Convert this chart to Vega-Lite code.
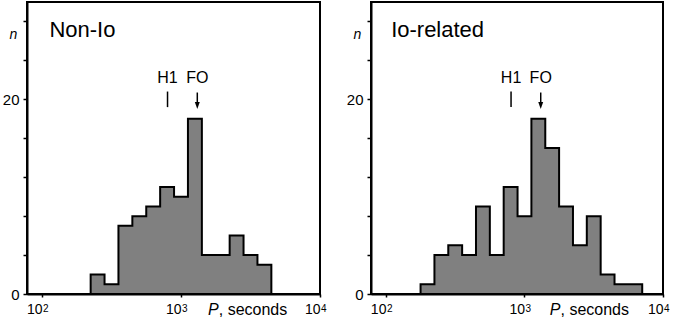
{
  "$schema": "https://vega.github.io/schema/vega-lite/v6.json",
  "padding": {"left": 1, "top": 1, "right": 0, "bottom": 0},
  "spacing": 17,
  "datasets": {
    "bins": [
      {"panel": "Non-Io", "lo": 223.9, "hi": 281.8, "n": 2},
      {"panel": "Non-Io", "lo": 281.8, "hi": 354.8, "n": 1},
      {"panel": "Non-Io", "lo": 354.8, "hi": 446.7, "n": 7},
      {"panel": "Non-Io", "lo": 446.7, "hi": 562.3, "n": 8},
      {"panel": "Non-Io", "lo": 562.3, "hi": 707.9, "n": 9},
      {"panel": "Non-Io", "lo": 707.9, "hi": 891.3, "n": 11},
      {"panel": "Non-Io", "lo": 891.3, "hi": 1122, "n": 10},
      {"panel": "Non-Io", "lo": 1122, "hi": 1413, "n": 18},
      {"panel": "Non-Io", "lo": 1413, "hi": 1778, "n": 4},
      {"panel": "Non-Io", "lo": 1778, "hi": 2239, "n": 4},
      {"panel": "Non-Io", "lo": 2239, "hi": 2818, "n": 6},
      {"panel": "Non-Io", "lo": 2818, "hi": 3548, "n": 4},
      {"panel": "Non-Io", "lo": 3548, "hi": 4467, "n": 3},
      {"panel": "Io-related", "lo": 177.8, "hi": 223.9, "n": 1},
      {"panel": "Io-related", "lo": 223.9, "hi": 281.8, "n": 4},
      {"panel": "Io-related", "lo": 281.8, "hi": 354.8, "n": 5},
      {"panel": "Io-related", "lo": 354.8, "hi": 446.7, "n": 4},
      {"panel": "Io-related", "lo": 446.7, "hi": 562.3, "n": 9},
      {"panel": "Io-related", "lo": 562.3, "hi": 707.9, "n": 4},
      {"panel": "Io-related", "lo": 707.9, "hi": 891.3, "n": 11},
      {"panel": "Io-related", "lo": 891.3, "hi": 1122, "n": 8},
      {"panel": "Io-related", "lo": 1122, "hi": 1413, "n": 18},
      {"panel": "Io-related", "lo": 1413, "hi": 1778, "n": 15},
      {"panel": "Io-related", "lo": 1778, "hi": 2239, "n": 9},
      {"panel": "Io-related", "lo": 2239, "hi": 2818, "n": 5},
      {"panel": "Io-related", "lo": 2818, "hi": 3548, "n": 8},
      {"panel": "Io-related", "lo": 3548, "hi": 4467, "n": 2},
      {"panel": "Io-related", "lo": 4467, "hi": 5623, "n": 1},
      {"panel": "Io-related", "lo": 5623, "hi": 7079, "n": 1}
    ],
    "exps": [
      {"v": 100, "e": "2"},
      {"v": 1000, "e": "3"},
      {"v": 10000, "e": "4"}
    ]
  },
  "hconcat": [
    {
      "width": 293,
      "height": 292,
      "data": {"values": [{}]},
      "layer": [
        {
          "data": {"name": "bins"},
          "transform": [
            {"filter": "datum.panel == 'Non-Io'"},
            {"fold": ["lo", "hi"], "as": ["edge", "p"]}
          ],
          "mark": {"type": "area", "orient": "vertical", "interpolate": "linear", "fill": "#808080", "fillOpacity": 1, "stroke": "black", "strokeWidth": 2},
          "encoding": {
            "x": {"field": "p", "type": "quantitative",
              "scale": {"type": "log", "domain": [78, 10000], "nice": false},
              "axis": {"values": [100, 1000, 10000], "labelExpr": "'10'", "labelAlign": "right", "labelDx": 0, "title": null, "grid": false, "tickSize": 3, "labelFontSize": 14, "labelPadding": 5, "labelFlush": false, "labelOverlap": false}},
            "y": {"field": "n", "type": "quantitative", "stack": null,
              "scale": {"domain": [0, 30], "nice": false},
              "axis": {"values": [0,1,2,3,4,5,6,7,8,9,10,11,12,13,14,15,16,17,18,19,20,21,22,23,24,25,26,27,28,29], "labelExpr": "datum.value % 10 == 0 ? datum.label : ''", "title": "n", "titleAngle": 0, "titleFontStyle": "italic", "titleFontWeight": "normal", "titleFontSize": 14, "titleX": -14, "titleY": 32, "titleAlign": "center", "titleBaseline": "middle", "grid": false, "tickSize": 4, "labelFontSize": 15, "labelPadding": 4, "labelOverlap": false, "labelFlush": false}}
          }
        },
        {"data": {"name": "exps"}, "mark": {"type": "text", "align": "left", "baseline": "alphabetic", "fontSize": 10, "dx": 1}, "encoding": {"x": {"field": "v", "type": "quantitative"}, "y": {"datum": -1.85}, "text": {"field": "e"}}},
        {"mark": {"type": "text", "align": "left", "baseline": "middle", "fontSize": 22}, "encoding": {"x": {"datum": 113}, "y": {"datum": 27.1}, "text": {"value": "Non-Io"}}},
        {"mark": {"type": "text", "align": "center", "baseline": "middle", "fontSize": 16}, "encoding": {"x": {"datum": 800}, "y": {"datum": 22.2}, "text": {"value": "H1"}}},
        {"mark": {"type": "text", "align": "center", "baseline": "middle", "fontSize": 16}, "encoding": {"x": {"datum": 1310}, "y": {"datum": 22.2}, "text": {"value": "FO"}}},
        {"mark": {"type": "rule", "strokeWidth": 1.5, "color": "black"}, "encoding": {"x": {"datum": 800}, "y": {"datum": 19.2}, "y2": {"datum": 20.8}}},
        {"mark": {"type": "rule", "strokeWidth": 1.5, "color": "black"}, "encoding": {"x": {"datum": 1310}, "y": {"datum": 19.6}, "y2": {"datum": 20.7}}},
        {"mark": {"type": "point", "shape": "M-0.7,-1L0.7,-1L0,1Z", "filled": true, "fill": "black", "opacity": 1, "size": 50, "strokeWidth": 0}, "encoding": {"x": {"datum": 1310}, "y": {"datum": 19.37}}},
        {"mark": {"type": "text", "align": "right", "baseline": "alphabetic", "fontSize": 16, "fontStyle": "italic"}, "encoding": {"x": {"datum": 1870}, "y": {"datum": -2.16}, "text": {"value": "P"}}},
        {"mark": {"type": "text", "align": "left", "baseline": "alphabetic", "fontSize": 16}, "encoding": {"x": {"datum": 1870}, "y": {"datum": -2.16}, "text": {"value": ", seconds"}}}
      ]
    },
    {
      "width": 292,
      "height": 292,
      "data": {"values": [{}]},
      "layer": [
        {
          "data": {"name": "bins"},
          "transform": [
            {"filter": "datum.panel == 'Io-related'"},
            {"fold": ["lo", "hi"], "as": ["edge", "p"]}
          ],
          "mark": {"type": "area", "orient": "vertical", "interpolate": "linear", "fill": "#808080", "fillOpacity": 1, "stroke": "black", "strokeWidth": 2},
          "encoding": {
            "x": {"field": "p", "type": "quantitative",
              "scale": {"type": "log", "domain": [78, 10000], "nice": false},
              "axis": {"values": [100, 1000, 10000], "labelExpr": "'10'", "labelAlign": "right", "labelDx": 0, "title": null, "grid": false, "tickSize": 3, "labelFontSize": 14, "labelPadding": 5, "labelFlush": false, "labelOverlap": false}},
            "y": {"field": "n", "type": "quantitative", "stack": null,
              "scale": {"domain": [0, 30], "nice": false},
              "axis": {"values": [0,1,2,3,4,5,6,7,8,9,10,11,12,13,14,15,16,17,18,19,20,21,22,23,24,25,26,27,28,29], "labelExpr": "datum.value % 10 == 0 ? datum.label : ''", "title": "n", "titleAngle": 0, "titleFontStyle": "italic", "titleFontWeight": "normal", "titleFontSize": 14, "titleX": -14, "titleY": 32, "titleAlign": "center", "titleBaseline": "middle", "grid": false, "tickSize": 4, "labelFontSize": 15, "labelPadding": 4, "labelOverlap": false, "labelFlush": false}}
          }
        },
        {"data": {"name": "exps"}, "mark": {"type": "text", "align": "left", "baseline": "alphabetic", "fontSize": 10, "dx": 1}, "encoding": {"x": {"field": "v", "type": "quantitative"}, "y": {"datum": -1.85}, "text": {"field": "e"}}},
        {"mark": {"type": "text", "align": "left", "baseline": "middle", "fontSize": 22}, "encoding": {"x": {"datum": 109}, "y": {"datum": 27.1}, "text": {"value": "Io-related"}}},
        {"mark": {"type": "text", "align": "center", "baseline": "middle", "fontSize": 16}, "encoding": {"x": {"datum": 800}, "y": {"datum": 22.2}, "text": {"value": "H1"}}},
        {"mark": {"type": "text", "align": "center", "baseline": "middle", "fontSize": 16}, "encoding": {"x": {"datum": 1310}, "y": {"datum": 22.2}, "text": {"value": "FO"}}},
        {"mark": {"type": "rule", "strokeWidth": 1.5, "color": "black"}, "encoding": {"x": {"datum": 800}, "y": {"datum": 19.2}, "y2": {"datum": 20.8}}},
        {"mark": {"type": "rule", "strokeWidth": 1.5, "color": "black"}, "encoding": {"x": {"datum": 1310}, "y": {"datum": 19.6}, "y2": {"datum": 20.7}}},
        {"mark": {"type": "point", "shape": "M-0.7,-1L0.7,-1L0,1Z", "filled": true, "fill": "black", "opacity": 1, "size": 50, "strokeWidth": 0}, "encoding": {"x": {"datum": 1310}, "y": {"datum": 19.37}}},
        {"mark": {"type": "text", "align": "right", "baseline": "alphabetic", "fontSize": 16, "fontStyle": "italic"}, "encoding": {"x": {"datum": 1820}, "y": {"datum": -2.16}, "text": {"value": "P"}}},
        {"mark": {"type": "text", "align": "left", "baseline": "alphabetic", "fontSize": 16}, "encoding": {"x": {"datum": 1820}, "y": {"datum": -2.16}, "text": {"value": ", seconds"}}}
      ]
    }
  ],
  "config": {
    "view": {"stroke": "black", "strokeWidth": 2},
    "font": "Liberation Sans",
    "axis": {"domainColor": "black", "domainWidth": 2, "tickColor": "black", "tickWidth": 1.5, "labelColor": "black", "titleColor": "black", "labelFont": "Liberation Sans", "titleFont": "Liberation Sans"},
    "text": {"font": "Liberation Sans", "color": "black"}
  }
}
